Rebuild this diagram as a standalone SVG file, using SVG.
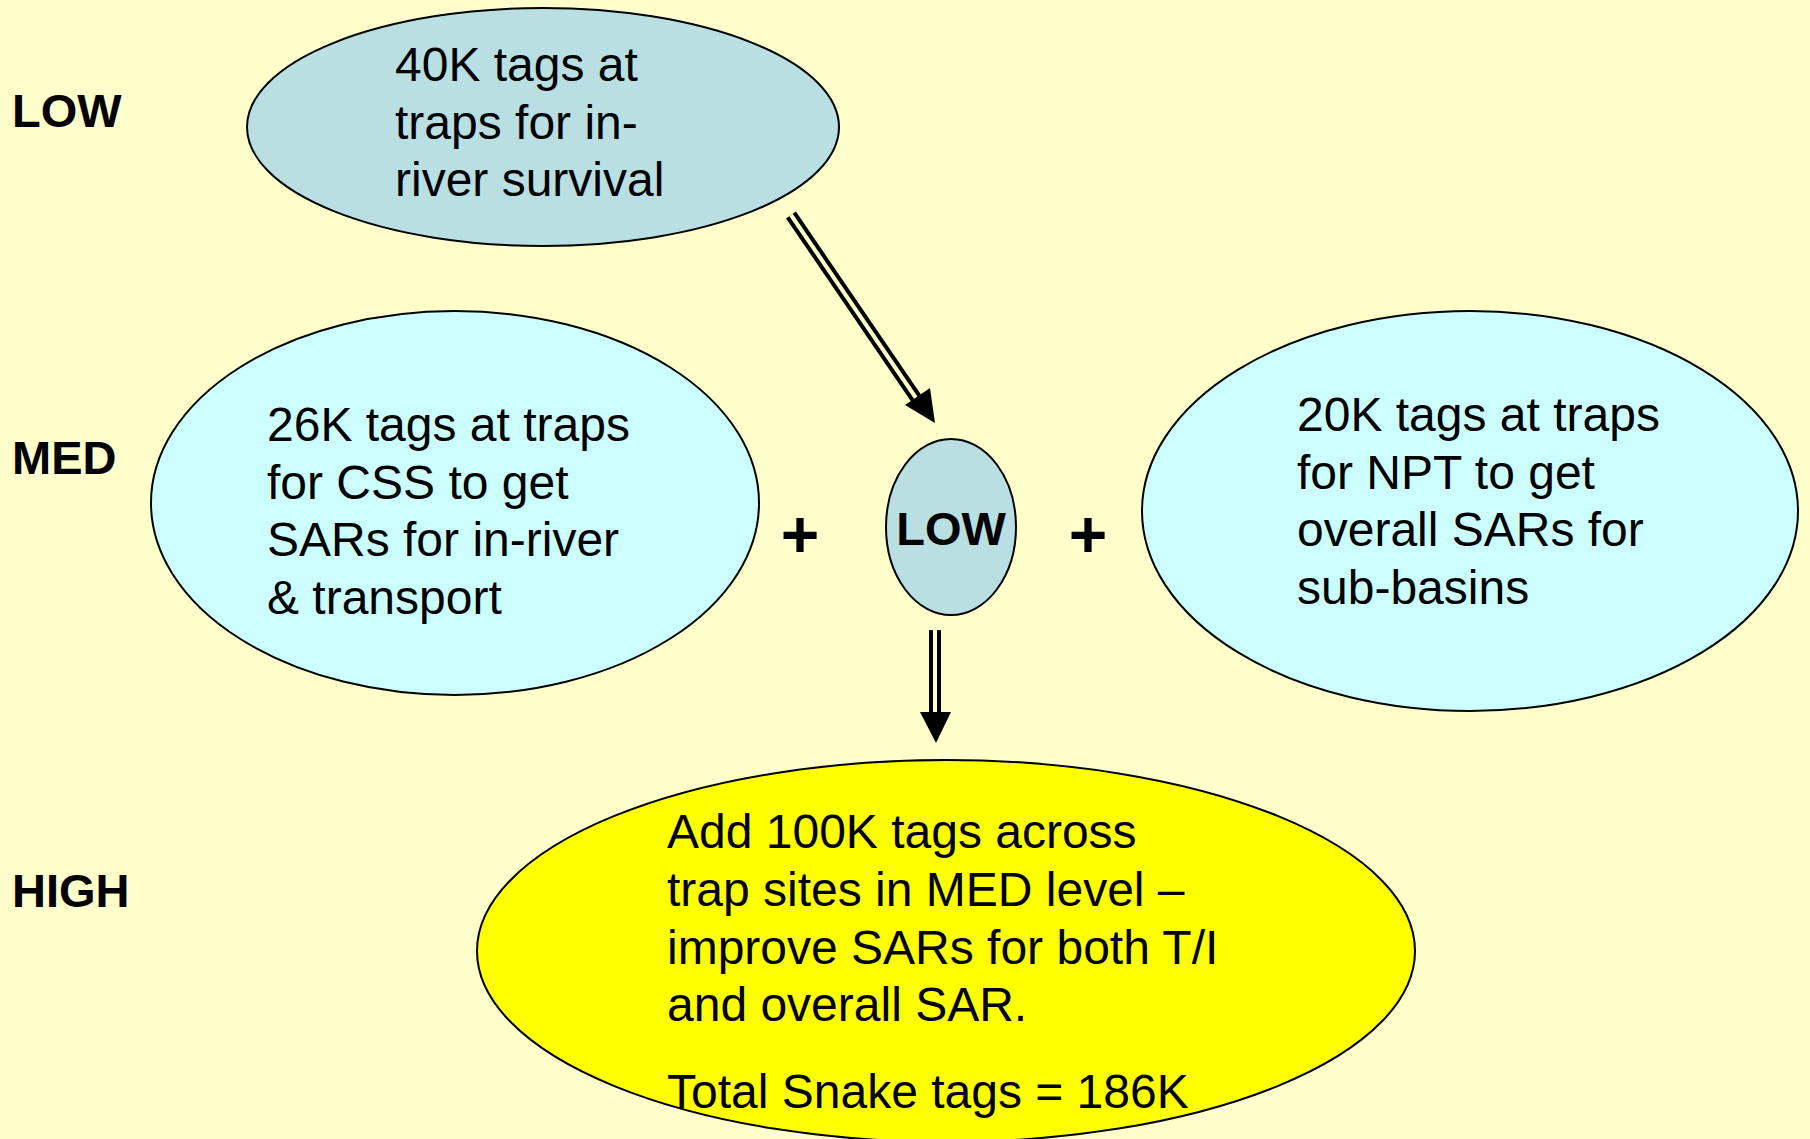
<svg xmlns="http://www.w3.org/2000/svg" width="1810" height="1139" viewBox="0 0 1810 1139">
<style>
.t{font-family:"Liberation Sans",Arial,sans-serif;font-size:48px;fill:#000}
.b{font-family:"Liberation Sans",Arial,sans-serif;font-size:47px;font-weight:bold;fill:#000}
.e{stroke:#000;stroke-width:2}
</style>
<rect width="1810" height="1139" fill="#FFFFCC"/>
<g id="level-labels">
<text class="b" x="12" y="127">LOW</text>
<text class="b" x="12" y="474">MED</text>
<text class="b" x="12" y="907">HIGH</text>
</g>
<g id="node-low-top">
<ellipse class="e" cx="543" cy="127" rx="296" ry="119" fill="#B9DFE3"/>
<text class="t" x="395" y="81">40K tags at</text>
<text class="t" x="395" y="139">traps for in-</text>
<text class="t" x="395" y="196">river survival</text>
</g>
<g id="node-med-left">
<ellipse class="e" cx="455" cy="503" rx="304" ry="192" fill="#CCFFFF"/>
<text class="t" x="267" y="441">26K tags at traps</text>
<text class="t" x="267" y="499">for CSS to get</text>
<text class="t" x="267" y="556">SARs for in-river</text>
<text class="t" x="267" y="614">&amp; transport</text>
</g>
<g id="node-low-mid">
<ellipse class="e" cx="951" cy="527" rx="65" ry="88" fill="#B9DFE3"/>
<text class="b" x="951" y="545" text-anchor="middle">LOW</text>
</g>
<g id="node-med-right">
<ellipse class="e" cx="1470" cy="511" rx="328" ry="200" fill="#CCFFFF"/>
<text class="t" x="1297" y="431">20K tags at traps</text>
<text class="t" x="1297" y="489">for NPT to get</text>
<text class="t" x="1297" y="546">overall SARs for</text>
<text class="t" x="1297" y="604">sub-basins</text>
</g>
<g id="node-high">
<ellipse class="e" cx="946" cy="951" rx="469" ry="191" fill="#FFFF00"/>
<text class="t" x="667" y="848">Add 100K tags across</text>
<text class="t" x="667" y="906">trap sites in MED level –</text>
<text class="t" x="667" y="964">improve SARs for both T/I</text>
<text class="t" x="667" y="1021">and overall SAR.</text>
<text class="t" x="667" y="1108">Total Snake tags = 186K</text>
</g>
<g id="plus-signs">
<text class="b" x="800" y="557" text-anchor="middle" style="font-size:66px">+</text>
<text class="b" x="1088" y="557" text-anchor="middle" style="font-size:66px">+</text>
</g>
<g id="connectors">
<line x1="791" y1="215" x2="916" y2="398" stroke="#000" stroke-width="12"/>
<line x1="791" y1="215" x2="916" y2="398" stroke="#FFFFCC" stroke-width="4"/>
<path d="M935,423 L905,405 L930,388 Z" fill="#000"/>
<line x1="935" y1="630" x2="935" y2="714" stroke="#000" stroke-width="12"/>
<line x1="935" y1="630" x2="935" y2="714" stroke="#FFFFCC" stroke-width="4"/>
<path d="M920,712 L951,712 L936,743 Z" fill="#000"/>
</g>
</svg>
